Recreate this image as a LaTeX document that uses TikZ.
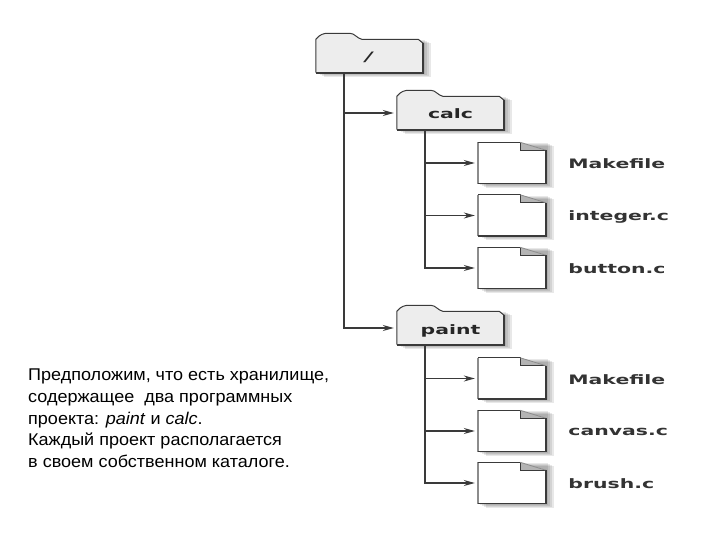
\documentclass[tikz,border=0pt]{standalone}
\usepackage{fontspec}
\setmainfont{Liberation Sans}[FakeStretch=1.06]
\newfontfamily\dirfont[FakeStretch=1.57]{DejaVu Sans}
\usepackage{xcolor}
\usetikzlibrary{positioning,arrows.meta,calc,backgrounds}
\definecolor{edge}{HTML}{3A3A3A}
\definecolor{leftedge}{HTML}{8C8C8C}
\definecolor{folderfill}{HTML}{EDEDED}
\definecolor{foldfill}{HTML}{B4B4B4}

\begin{document}
\begin{tikzpicture}[
    x=1pt,
    y=-1pt,
    folder/.style={
      minimum width=107pt,
      minimum height=33pt,
      inner sep=0pt,
      text height=12pt,
      text depth=0pt,
      text=black!85,
      font=\dirfont\bfseries\fontsize{13}{15}\selectfont
    },
    doc/.style={
      minimum width=68pt,
      minimum height=41pt,
      inner sep=0pt
    },
    fname/.style={
      right=22pt of #1,
      yshift=-1pt,
      inner sep=0pt,
      text=black!80,
      font=\dirfont\bfseries\fontsize{13}{15}\selectfont
    },
    bus/.style={
      edge,
      line width=1.8pt
    },
    arr/.style={
      -{Stealth[length=11pt,width=6pt]},
      edge,
      line width=1.1pt,
      shorten >=3pt
    },
    shade/.style={
      black,
      opacity=0.09
    }
  ]
    \useasboundingbox (0,0) rectangle (720,540);

    % folders
    \node[folder] (root) at (369.5,56) {\textit{/}};
    \node[folder] (calc) at (450.5,113) {calc};
    \node[folder] (paint) at (450.5,328) {paint};

    % files
    \node[doc] (calcmake) at (512,163) {};
    \node[doc] (calcint) at (512,215.5) {};
    \node[doc] (calcbtn) at (512,268) {};
    \node[doc] (paintmake) at (512,378.5) {};
    \node[doc] (paintcanvas) at (512,431) {};
    \node[doc] (paintbrush) at (512,483) {};

    \node[fname=calcmake] (calcmakename) {Makefile};
    \node[fname=calcint] (calcintname) {integer.c};
    \node[fname=calcbtn] (calcbtnname) {button.c};
    \node[fname=paintmake] (paintmakename) {Makefile};
    \node[fname=paintcanvas] (paintcanvasname) {canvas.c};
    \node[fname=paintbrush] (paintbrushname) {brush.c};

    % outlines go behind the labels
    \begin{scope}[on background layer]
      \foreach \n in {root,calc,paint,calcmake,calcint,calcbtn,paintmake,paintcanvas,paintbrush}
        \foreach \s in {2,4,6,8}
          \fill[shade] ([shift={(\s,\s/2)}]\n.north west) rectangle ([shift={(\s,\s/2)}]\n.south east);

      \foreach \n in {root,calc,paint} {
        \fill[folderfill] (\n.south west) -- (\n.north west)
          .. controls ($(\n.north west)+(4,-5)$) and ($(\n.north west)+(8,-6)$) .. ($(\n.north west)+(12,-6)$)
          -- ($(\n.north west)+(34,-6)$)
          .. controls ($(\n.north west)+(39,-6)$) and ($(\n.north west)+(41,-1)$) .. ($(\n.north west)+(46,0)$)
          -- ($(\n.north east)+(-5,0)$) -- ($(\n.north east)+(0,4)$) -- (\n.south east) -- cycle;
        \draw[edge,line width=1pt] (\n.south west) -- (\n.north west)
          .. controls ($(\n.north west)+(4,-5)$) and ($(\n.north west)+(8,-6)$) .. ($(\n.north west)+(12,-6)$)
          -- ($(\n.north west)+(34,-6)$)
          .. controls ($(\n.north west)+(39,-6)$) and ($(\n.north west)+(41,-1)$) .. ($(\n.north west)+(46,0)$)
          -- ($(\n.north east)+(-5,0)$) -- ($(\n.north east)+(0,4)$);
        \draw[edge,line width=1.8pt] ($(\n.north east)+(0,4)$) -- (\n.south east) -- (\n.south west);
      }

      \foreach \n in {calcmake,calcint,calcbtn,paintmake,paintcanvas,paintbrush} {
        \fill[white] (\n.north west) -- ($(\n.north east)+(-26,0)$) -- ($(\n.north east)+(0,8)$) -- (\n.south east) -- (\n.south west) -- cycle;
        \fill[foldfill] ($(\n.north east)+(-26,0)$) -- ($(\n.north east)+(0,8)$) -- ($(\n.north east)+(-26,8)$) -- cycle;
        \draw[leftedge,line width=1.5pt] (\n.south west) -- (\n.north west);
        \draw[edge,line width=0.8pt] (\n.north west) -- ($(\n.north east)+(-26,0)$) -- ($(\n.north east)+(-26,8)$) -- ($(\n.north east)+(0,8)$);
        \draw[leftedge,line width=0.8pt] ($(\n.north east)+(-26,0)$) -- ($(\n.north east)+(0,8)$);
        \draw[edge,line width=1.5pt] ($(\n.north east)+(0,8)$) -- (\n.south east) -- (\n.south west);
      }
    \end{scope}

    % connectors
    \coordinate (rootbus) at ([xshift=-25.5pt]root.south);
    \coordinate (calcbus) at ([xshift=-25.5pt]calc.south);
    \coordinate (paintbus) at ([xshift=-25.5pt]paint.south);

    \draw[bus] (rootbus) -- (rootbus |- paint.west);
    \draw[bus] (calcbus) -- (calcbus |- calcbtn.west);
    \draw[bus] (paintbus) -- (paintbus |- paintbrush.west);

    \draw[arr] (rootbus) |- (calc.west);
    \draw[arr] (rootbus) |- (paint.west);
    \foreach \n in {calcmake,calcint,calcbtn}
      \draw[arr] (calcbus) |- (\n.west);
    \foreach \n in {paintmake,paintcanvas,paintbrush}
      \draw[arr] (paintbus) |- (\n.west);

    \node[anchor=north west,inner sep=0pt,align=left,font=\fontsize{17}{21.7}\selectfont] (story) at (28,369)
      {Предположим, что есть хранилище,\\
       содержащее\ \ два программных\\
       проекта: \textit{paint} и \textit{calc}.\\
       Каждый проект располагается\\
       в своем собственном каталоге.};
  \end{tikzpicture}
\end{document}
